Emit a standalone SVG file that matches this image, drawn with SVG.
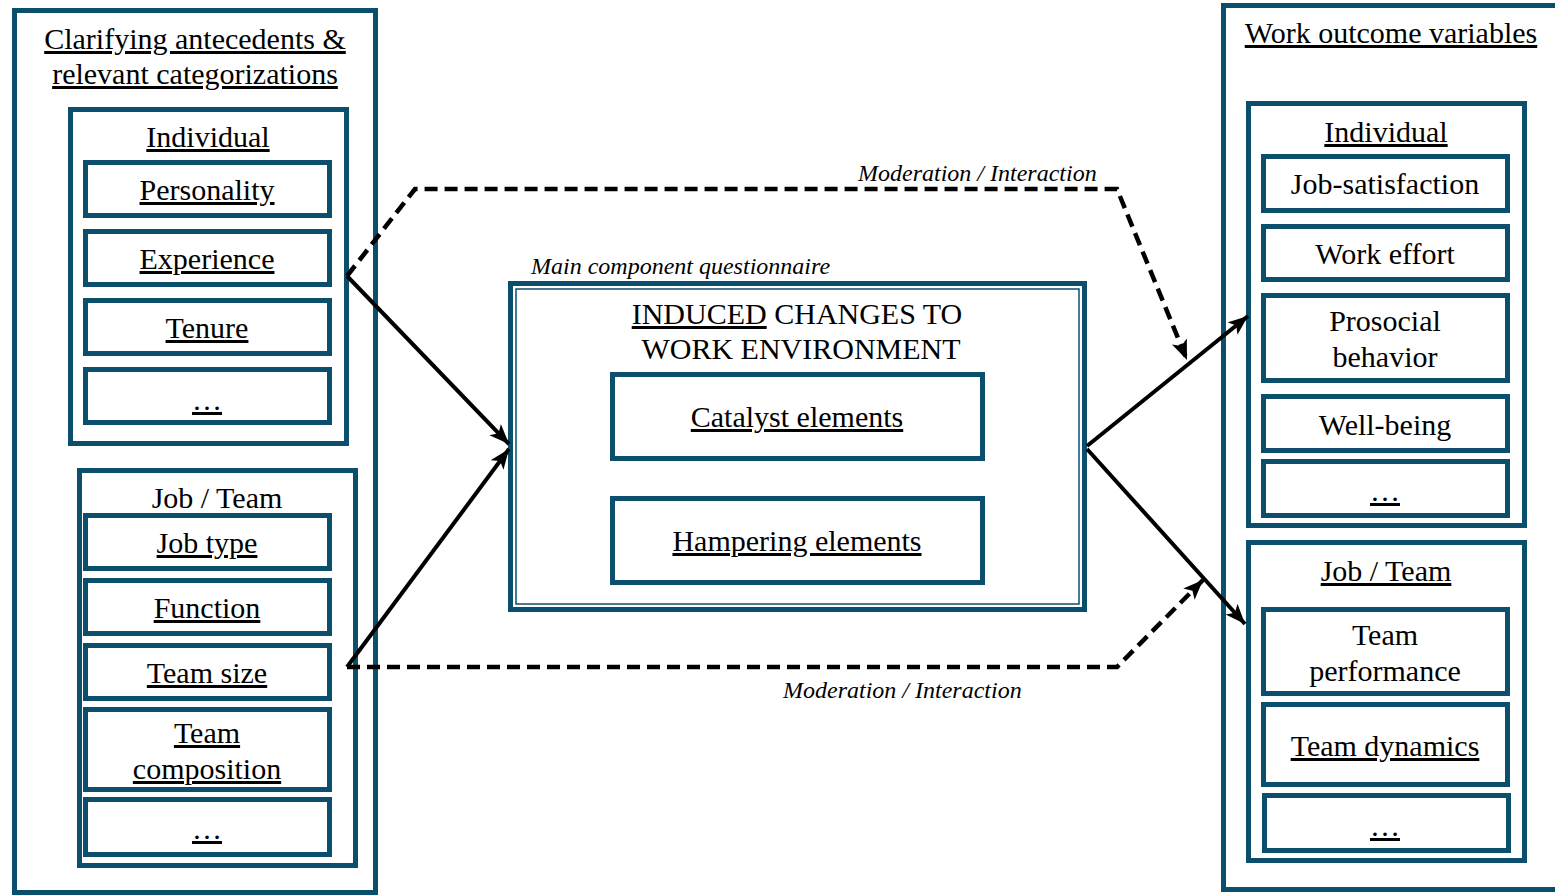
<svg xmlns="http://www.w3.org/2000/svg" width="1555" height="895" viewBox="0 0 1555 895">
<defs>
<style>
.b{fill:#fff;stroke:#0b4f6c;stroke-width:5}
.t{font-family:"Liberation Serif","Times New Roman",serif;font-size:30px;fill:#000;text-anchor:middle}
.u{text-decoration:underline}
.i{font-family:"Liberation Serif","Times New Roman",serif;font-size:24px;font-style:italic;fill:#000}
.s{fill:none;stroke:#000;stroke-width:4}
.d{fill:none;stroke:#000;stroke-width:4.5;stroke-dasharray:13 7}
</style>
<marker id="ah" markerUnits="userSpaceOnUse" markerWidth="24" markerHeight="20" refX="20" refY="8" orient="auto">
<path d="M0,0 L20,8 L0,16 L5,8 Z" fill="#000"/>
</marker>
</defs>
<rect width="1555" height="895" fill="#fff"/>

<g id="left-column">
<rect class="b" x="14.5" y="10.5" width="361" height="882"/>
<text class="t u" x="195" y="49">Clarifying antecedents &amp;</text>
<text class="t u" x="195" y="84">relevant categorizations</text>
</g>
<g id="left-individual">
<rect class="b" x="70.5" y="109.5" width="276" height="334"/>
<text class="t u" x="208" y="147">Individual</text>
</g>
<g id="personality"><rect class="b" x="85.5" y="162.5" width="244" height="53"/><text class="t u" x="207" y="200">Personality</text></g>
<g id="experience"><rect class="b" x="85.5" y="231.5" width="244" height="53"/><text class="t u" x="207" y="269">Experience</text></g>
<g id="tenure"><rect class="b" x="85.5" y="300.5" width="244" height="53"/><text class="t u" x="207" y="338">Tenure</text></g>
<g id="left-ind-more"><rect class="b" x="85.5" y="369.5" width="244" height="53"/><text class="t u" x="207" y="410">…</text></g>

<g id="left-jobteam">
<rect class="b" x="79.5" y="470.5" width="276" height="395"/>
<text class="t" x="217" y="508">Job / Team</text>
</g>
<g id="job-type"><rect class="b" x="85.5" y="515.5" width="244" height="53"/><text class="t u" x="207" y="553">Job type</text></g>
<g id="function"><rect class="b" x="85.5" y="580.5" width="244" height="53"/><text class="t u" x="207" y="618">Function</text></g>
<g id="team-size"><rect class="b" x="85.5" y="645.5" width="244" height="53"/><text class="t u" x="207" y="683">Team size</text></g>
<g id="team-composition"><rect class="b" x="85.5" y="709.5" width="244" height="80"/><text class="t u" x="207" y="743">Team</text><text class="t u" x="207" y="779">composition</text></g>
<g id="left-job-more"><rect class="b" x="85.5" y="799.5" width="244" height="55"/><text class="t u" x="207" y="839">…</text></g>

<g id="center">
<text class="i" x="531" y="274">Main component questionnaire</text>
<rect class="b" x="510.5" y="283.5" width="574" height="326"/>
<rect x="516" y="289" width="563" height="315" fill="none" stroke="#0b4f6c" stroke-width="1.5"/>
<text class="t" x="797" y="324"><tspan class="u">INDUCED</tspan> CHANGES TO</text>
<text class="t" x="801" y="359">WORK ENVIRONMENT</text>
</g>
<g id="catalyst"><rect class="b" x="612.5" y="374.5" width="370" height="84"/><text class="t u" x="797" y="427">Catalyst elements</text></g>
<g id="hampering"><rect class="b" x="612.5" y="498.5" width="370" height="84"/><text class="t u" x="797" y="551">Hampering elements</text></g>

<g id="right-column">
<rect class="b" x="1223.5" y="5.5" width="345" height="884"/>
<text class="t u" x="1391" y="43">Work outcome variables</text>
</g>
<g id="right-individual">
<rect class="b" x="1248.5" y="103.5" width="276" height="422"/>
<text class="t u" x="1386" y="142">Individual</text>
</g>
<g id="job-satisfaction"><rect class="b" x="1263.5" y="156.5" width="244" height="54"/><text class="t" x="1385" y="194">Job-satisfaction</text></g>
<g id="work-effort"><rect class="b" x="1263.5" y="226.5" width="244" height="53"/><text class="t" x="1385" y="264">Work effort</text></g>
<g id="prosocial"><rect class="b" x="1263.5" y="295.5" width="244" height="85"/><text class="t" x="1385" y="331">Prosocial</text><text class="t" x="1385" y="367">behavior</text></g>
<g id="well-being"><rect class="b" x="1263.5" y="396.5" width="244" height="54"/><text class="t" x="1385" y="435">Well-being</text></g>
<g id="right-ind-more"><rect class="b" x="1263.5" y="461.5" width="244" height="54"/><text class="t u" x="1385" y="501">…</text></g>

<g id="right-jobteam">
<rect class="b" x="1248.5" y="542.5" width="276" height="318"/>
<text class="t u" x="1386" y="581">Job / Team</text>
</g>
<g id="team-performance"><rect class="b" x="1263.5" y="609.5" width="244" height="84"/><text class="t" x="1385" y="645">Team</text><text class="t" x="1385" y="681">performance</text></g>
<g id="team-dynamics"><rect class="b" x="1263.5" y="704.5" width="244" height="80"/><text class="t u" x="1385" y="756">Team dynamics</text></g>
<g id="right-job-more"><rect class="b" x="1264.5" y="795.5" width="244" height="55"/><text class="t u" x="1385" y="836">…</text></g>

<g id="connectors">
<path class="s" d="M347,276 L509,444" marker-end="url(#ah)"/>
<path class="s" d="M347,667 L509,449" marker-end="url(#ah)"/>
<path class="s" d="M1087,446 L1248,316" marker-end="url(#ah)"/>
<path class="s" d="M1087,449 L1245,624" marker-end="url(#ah)"/>
<path class="d" d="M347,276 L415,189 L1117,189 L1187,360" marker-end="url(#ah)"/>
<path class="d" d="M347,667 L1117,667 L1203,580" marker-end="url(#ah)"/>
<text class="i" x="858" y="181">Moderation / Interaction</text>
<text class="i" x="783" y="698">Moderation / Interaction</text>
</g>
</svg>
